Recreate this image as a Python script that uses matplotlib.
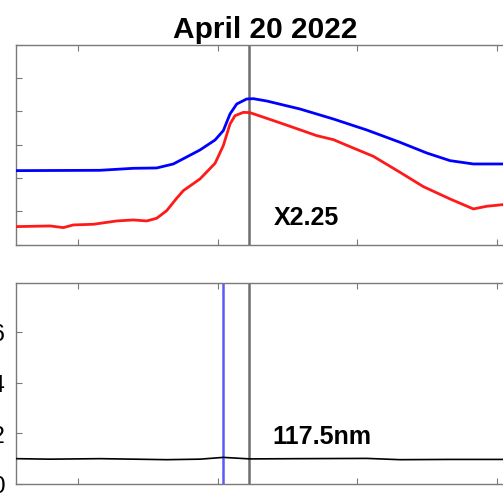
import matplotlib
matplotlib.use("Agg")
import matplotlib.pyplot as plt

# ---- data ----
blue_x = [0.554, 1.157, 1.396, 1.563, 1.682, 1.778, 1.873, 1.981, 2.040, 2.088, 2.136,
          2.207, 2.255, 2.351, 2.589, 2.828, 3.067, 3.305, 3.496, 3.663, 3.830, 4.042, 4.133]
blue_y = [2.22, 2.23, 2.29, 2.30, 2.42, 2.63, 2.84, 3.14, 3.42, 3.92, 4.22,
          4.37, 4.38, 4.31, 4.07, 3.77, 3.44, 3.07, 2.75, 2.52, 2.42, 2.42, 2.42]

red_x = [0.554, 0.680, 0.800, 0.895, 0.966, 1.110, 1.277, 1.396, 1.492, 1.563, 1.635,
         1.706, 1.754, 1.873, 1.981, 2.040, 2.088, 2.124, 2.184, 2.231, 2.351, 2.470,
         2.709, 2.828, 2.947, 3.114, 3.305, 3.472, 3.663, 3.830, 3.925, 4.042, 4.133]
red_y = [0.54, 0.55, 0.56, 0.51, 0.59, 0.61, 0.71, 0.74, 0.71, 0.79, 1.02,
         1.39, 1.62, 1.97, 2.44, 2.97, 3.62, 3.87, 3.97, 3.96, 3.79, 3.62,
         3.27, 3.15, 2.94, 2.65, 2.17, 1.74, 1.37, 1.07, 1.15, 1.20, 1.22]

ratio_x = [0.554, 0.800, 1.157, 1.396, 1.635, 1.873, 2.040, 2.136, 2.231, 2.589, 3.067,
           3.305, 3.663, 4.042, 4.133]
ratio_y = [0.100, 0.098, 0.100, 0.098, 0.096, 0.098, 0.105, 0.102, 0.099, 0.100, 0.101,
           0.096, 0.097, 0.097, 0.097]

x_ticks = [1, 2, 3, 4]
top_yticks = [0, 1, 2, 3, 4, 5, 6]
bot_yticks = [0, 0.2, 0.4, 0.6]
bot_yticklabels = ["0", "0.2", "0.4", "0.6"]
marker_x = 2.224
blue_marker_x = 2.040
title = "April 20 2022"
top_label = "X2.25"
bot_label = "117.5nm"

plt.rcParams['font.family'] = ['Liberation Sans', 'DejaVu Sans']

fig = plt.figure(figsize=(5.03, 5.02), dpi=100)
W, H = 503, 502

def pos(l, t, r, b):
    return [l / W, 1 - b / H, (r - l) / W, (b - t) / H]

spine_col = '#7a7a7a'
ax1 = fig.add_axes(pos(15.7, 45.7, 515.7, 245.6))
ax2 = fig.add_axes(pos(15.7, 284.3, 515.7, 485.0))

for ax in (ax1, ax2):
    ax.set_xlim(0.554, 4.133)
    ax.set_xticks(x_ticks)
    ax.set_xticklabels([])
    for s in ax.spines.values():
        s.set_color(spine_col)
        s.set_linewidth(1.0)
    ax.tick_params(direction='in', length=4, width=0.8, color=spine_col,
                   top=True, right=True, labelsize=17.5)
    ax.axvline(marker_x, color='#6e6e6e', lw=1.8, zorder=1)

ax1.plot(blue_x, blue_y, color='#0000ff', lw=2.0, zorder=3)
ax1.plot(red_x, red_y, color='#ff1a1a', lw=2.0, zorder=3)
ax1.set_ylim(0, 6)
ax1.set_yticks(top_yticks)
ax1.set_yticklabels([])
ax1.set_title(title, fontsize=21.5, fontweight='bold', pad=5.5)
ax1.text(2.632, 0.62, top_label, fontsize=18, fontweight='bold', ha='center', va='baseline')

ax2.axvline(blue_marker_x, color='#5a5aff', lw=1.8, zorder=1)
ax2.plot(ratio_x, ratio_y, color='black', lw=1.2, zorder=3)
ax2.set_ylim(0, 0.792)
ax2.set_yticks(bot_yticks)
ax2.set_yticklabels(bot_yticklabels)
ax2.tick_params(axis='y', pad=7.5)
ax2.text(2.743, 0.160, bot_label, fontsize=18, fontweight='bold', ha='center', va='baseline')

fig.savefig('out.png', dpi=100)
